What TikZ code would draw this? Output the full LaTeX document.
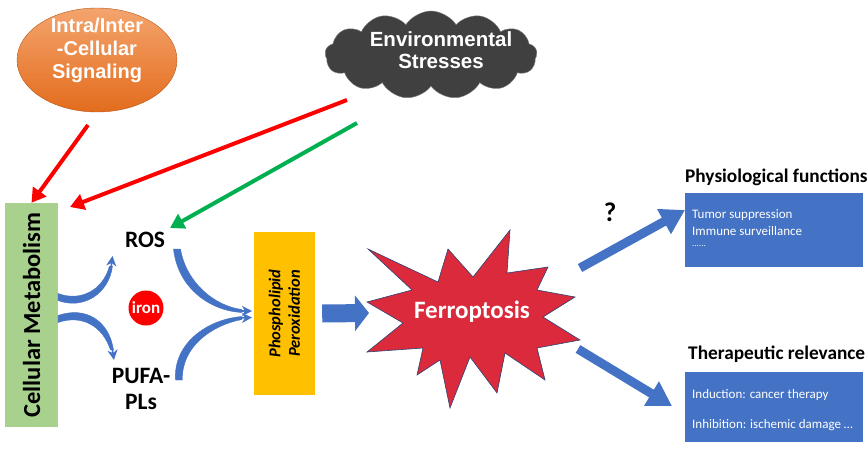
\documentclass[tikz,border=0pt]{standalone}
\usepackage{fontspec}
\setmainfont{Carlito}
\newfontfamily\arialfont{Liberation Sans}
\usetikzlibrary{shapes.geometric,shapes.symbols,arrows.meta}
\definecolor{sigtop}{HTML}{F4A46E}
\definecolor{sigbot}{HTML}{E36C1C}
\definecolor{cloudgray}{HTML}{404040}
\definecolor{metabgreen}{HTML}{A9D18E}
\definecolor{peroxorange}{HTML}{FFC000}
\definecolor{ferrored}{HTML}{DA2A3B}
\definecolor{boxblue}{HTML}{4472C4}
\definecolor{arrowgreen}{HTML}{00B050}
\newcommand{\fsz}[1]{\fontsize{#1}{#1}\selectfont}
\tikzset{
    stressarrow/.style={line width=4pt, -{Triangle[length=14pt,width=16pt]}},
    curvebody/.style={fill=boxblue, draw=boxblue, line width=0.4pt},
    curvehead/.style={boxblue, line width=1.5pt, -{Stealth[length=10pt,width=10pt,inset=3pt]}},
    blockarrow/.style={boxblue, line width=9pt, -{Triangle[length=24pt,width=27pt]}},
    infobox/.style={rectangle, fill=boxblue, minimum width=178pt, inner sep=0pt},
    infotext/.style={anchor=west, text=white, font=\fsz{13}, inner sep=0pt},
    heading/.style={font=\bfseries\fsz{19.3}, inner sep=0pt}
}
\begin{document}
\begin{tikzpicture}[x=1pt,y=-1pt]
    \useasboundingbox (0,0) rectangle (868,450);
    % sources
    \node [ellipse, top color=sigtop, bottom color=sigbot, draw=sigbot!80!black, line width=0.4pt,
        minimum width=160pt, minimum height=104pt] (sig) at (97,60) {};
    \node [align=center, text=white, font=\arialfont\bfseries\fsz{20}, inner sep=0pt] (sigtext) at (97,50)
        {Intra/Inter\\[3pt]-Cellular\\[3pt]Signaling};
    \node [cloud, cloud puffs=13, cloud puff arc=115, aspect=2.4, fill=cloudgray, draw=gray,
        minimum width=212pt, minimum height=88pt] (env) at (431,55) {};
    \node [align=center, text=white, font=\arialfont\bfseries\fsz{20.5}, inner sep=0pt] (envtext) at (441,50)
        {Environmental\\[2pt]Stresses};
    % cellular metabolism and its products
    \node [rectangle, fill=metabgreen, minimum width=53pt, minimum height=224pt, inner sep=0pt] (metab) at (31.5,315) {};
    \node [rotate=90, font=\bfseries\fsz{24.5}, inner sep=0pt] at (metab.center) {Cellular Metabolism};
    \node [font=\bfseries\fsz{23.5}, inner sep=0pt] (ros) at (145,240) {ROS};
    \node [align=center, font=\bfseries\fsz{23.5}, inner sep=0pt] (pufa) at (141,389) {PUFA-\\[3pt]PLs};
    \node [circle, fill=red, minimum size=35pt, inner sep=0pt, text=white, font=\bfseries\fsz{17}] (iron) at (146,308) {iron};
    \node [rectangle, fill=peroxorange, minimum width=61pt, minimum height=163pt, inner sep=0pt] (perox) at (284.5,313.5) {};
    \node [rotate=90, align=center, font=\bfseries\itshape\fsz{16.5}, inner sep=0pt] at (perox.center)
        {Phospholipid\\[3pt]Peroxidation};
    % ferroptosis star
    \draw [fill=ferrored, draw=boxblue!60!black, line width=0.6pt]
        (510,230) -- (507,273) -- (548,267) -- (537,290) -- (575,297) -- (543,317) -- (580,340)
        -- (537,348) -- (545,380) -- (505,353) -- (497,393) -- (470,357) -- (450,408) -- (440,360)
        -- (417,375) -- (423,348) -- (367,352) -- (403,323) -- (367,302) -- (412,290) -- (368,249)
        -- (438,282) -- (448,249) -- (473,277) -- cycle;
    \node [text=white, font=\bfseries\fsz{25}, inner sep=0pt] (ferro) at (472,312) {Ferroptosis};
    % outcomes
    \node [heading, anchor=west] (physhead) at (685,177) {Physiological functions};
    \node [infobox, anchor=north west, minimum height=74pt] (phys) at (685,193) {};
    \node [infotext] at (692,215) {Tumor suppression};
    \node [infotext] at (692,231) {Immune surveillance};
    \node [infotext] at (692,246) {\fsz{9}......};
    \node [heading, anchor=west] (therhead) at (688,354) {Therapeutic relevance};
    \node [infobox, anchor=north west, minimum height=70pt] (ther) at (685,372) {};
    \node [infotext] at (692,395) {Induction: cancer therapy};
    \node [infotext] at (692,425) {Inhibition: ischemic damage \dots};
    \node [font=\bfseries\fsz{27}, inner sep=0pt] (qmark) at (610,212) {?};
    % arrow ends
    \coordinate (sigout) at (88,125);
    \coordinate (envred) at (347,100);
    \coordinate (envgreen) at (357,123);
    \coordinate (metabin) at (70,207);
    \coordinate (rosin) at (170,228);
    \coordinate (ferrowest) at (369,313);
    \coordinate (ferroup) at (580,268);
    \coordinate (ferrodown) at (578,349);
    % arrows
    \draw [stressarrow, red] (sigout) -- (metab.north);
    \draw [stressarrow, red] (envred) -- (metabin);
    \draw [stressarrow, arrowgreen] (envgreen) -- (rosin);
    % curved arrows round iron
    \fill [curvebody] (58,293.5) .. controls (81,302) and (103,290) .. (109.5,266)
        -- (112.5,266) .. controls (109,294) and (83,310) .. (58,300.5) -- cycle;
    \draw [curvehead] (111,268) -- (112.5,256);
    \fill [curvebody] (58,322.5) .. controls (83,314) and (103,327) .. (110.5,350)
        -- (113.5,350) .. controls (109,320) and (85,306) .. (58,315.5) -- cycle;
    \draw [curvehead] (112,347) -- (114,360);
    \fill [curvebody] (173.5,249) .. controls (178,289) and (211,311) .. (242,312.5)
        -- (242,309.5) .. controls (214,306) and (186,282) .. (180.5,249) -- cycle;
    \draw [curvehead] (239,311) -- (252,311);
    \fill [curvebody] (175.5,380) .. controls (173,343) and (208,319) .. (242,316.5)
        -- (242,319.5) .. controls (212,325) and (181,347) .. (182.5,380) -- cycle;
    \draw [curvehead] (239,318) -- (252,317.5);
    \draw [boxblue, line width=18pt, -{Triangle[length=14pt,width=35pt]}] (perox.east)+(7,0) -- (ferrowest);
    \draw [blockarrow] (ferroup) -- (phys.west |- 0,210);
    \draw [blockarrow] (ferrodown) -- (672,406);
\end{tikzpicture}
\end{document}
